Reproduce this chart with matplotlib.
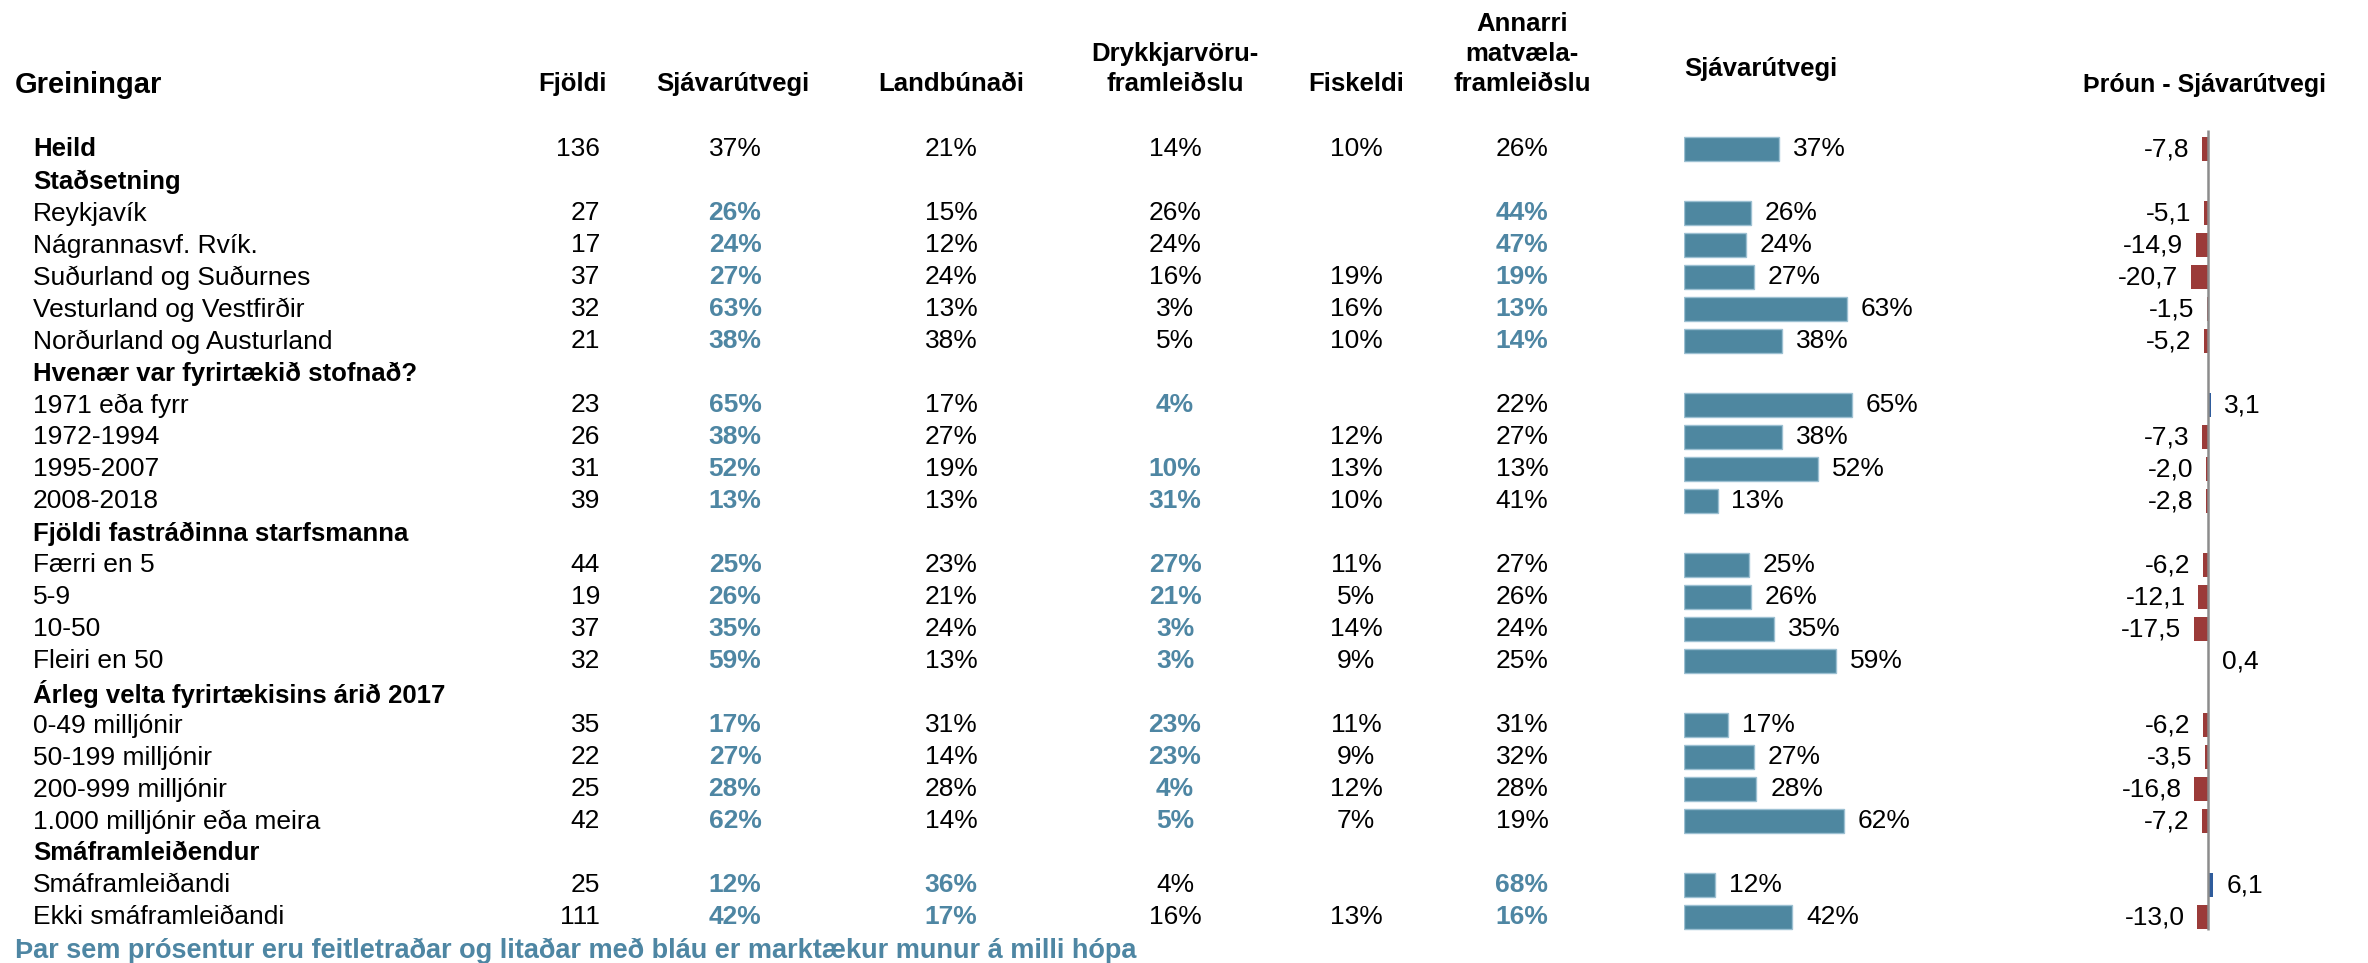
import matplotlib
matplotlib.use("Agg")
import matplotlib.pyplot as plt

plt.rcParams['font.family'] = ['Liberation Sans', 'DejaVu Sans']

# ---------------- data ----------------
row_labels = ["Heild", "Staðsetning", "Reykjavík", "Nágrannasvf. Rvík.", "Suðurland og Suðurnes",
              "Vesturland og Vestfirðir", "Norðurland og Austurland", "Hvenær var fyrirtækið stofnað?",
              "1971 eða fyrr", "1972-1994", "1995-2007", "2008-2018", "Fjöldi fastráðinna starfsmanna",
              "Færri en 5", "5-9", "10-50", "Fleiri en 50", "Árleg velta fyrirtækisins árið 2017",
              "0-49 milljónir", "50-199 milljónir", "200-999 milljónir", "1.000 milljónir eða meira",
              "Smáframleiðendur", "Smáframleiðandi", "Ekki smáframleiðandi"]
bold_rows = [True, True, False, False, False, False, False, True, False, False, False, False, True,
             False, False, False, False, True, False, False, False, False, True, False, False]

fjoldi = [136, None, 27, 17, 37, 32, 21, None, 23, 26, 31, 39, None, 44, 19, 37, 32, None,
          35, 22, 25, 42, None, 25, 111]
sjavarutvegi = [37, None, 26, 24, 27, 63, 38, None, 65, 38, 52, 13, None, 25, 26, 35, 59, None,
                17, 27, 28, 62, None, 12, 42]
landbunadi = [21, None, 15, 12, 24, 13, 38, None, 17, 27, 19, 13, None, 23, 21, 24, 13, None,
              31, 14, 28, 14, None, 36, 17]
drykkjarvoru = [14, None, 26, 24, 16, 3, 5, None, 4, None, 10, 31, None, 27, 21, 3, 3, None,
                23, 23, 4, 5, None, 4, 16]
fiskeldi = [10, None, None, None, 19, 16, 10, None, None, 12, 13, 10, None, 11, 5, 14, 9, None,
            11, 9, 12, 7, None, None, 13]
annarri = [26, None, 44, 47, 19, 13, 14, None, 22, 27, 13, 41, None, 27, 26, 24, 25, None,
           31, 32, 28, 19, None, 68, 16]
throun = [-7.8, None, -5.1, -14.9, -20.7, -1.5, -5.2, None, 3.1, -7.3, -2.0, -2.8, None,
          -6.2, -12.1, -17.5, 0.4, None, -6.2, -3.5, -16.8, -7.2, None, 6.1, -13.0]

# significance flags (bold blue)
sig_sjav = [False, False, True, True, True, True, True, False, True, True, True, True, False,
            True, True, True, True, False, True, True, True, True, False, True, True]
sig_landb = [False] * 23 + [True, True]
sig_drykk = [False, False, False, False, False, False, False, False, True, False, True, True, False,
             True, True, True, True, False, True, True, True, True, False, False, False]
sig_fisk = [False] * 25
sig_annarri = [False, False, True, True, True, True, True] + [False] * 16 + [True, True]

col_headers = ["Fjöldi", "Sjávarútvegi", "Landbúnaði", "Drykkjarvöru-\nframleiðslu", "Fiskeldi",
               "Annarri\nmatvæla-\nframleiðslu"]
bar_header = "Sjávarútvegi"
chg_header = "Þróun - Sjávarútvegi"
title_header = "Greiningar"
footnote = "Þar sem prósentur eru feitletraðar og litaðar með bláu er marktækur munur á milli hópa"

# ---------------- style ----------------
W, H = 2368, 963
ROW0, PITCH = 149.5, 32.0
FS = 19
FSB = 18.5
BLUE_TXT = "#4E86A3"
BAR_COL = "#4E87A0"
BAR_EDGE = "#9CC0D2"
NEG_COL = "#9B3B39"
POS_COL = "#2F5C9C"

fig = plt.figure(figsize=(W / 100, H / 100), dpi=100)

ylo = (H - ROW0) / PITCH
yhi = (0 - ROW0) / PITCH

ax = fig.add_axes([0, 0, 1, 1])
ax.set_xlim(0, W)
ax.set_ylim(ylo, yhi)
ax.axis("off")

# headers
hdr_y = (85 - ROW0) / PITCH
ax.text(15, hdr_y, title_header, fontsize=21, fontweight="bold", ha="left", va="center")
col_x = [573, 733, 951, 1175, 1356, 1522]
for x, h in zip(col_x, col_headers):
    ax.text(x, hdr_y + 0.35, h, fontsize=18.5, fontweight="bold", ha="center", va="bottom",
            linespacing=1.32)
ax.text(1684, (69 - ROW0) / PITCH, bar_header, fontsize=18.5, fontweight="bold", ha="left", va="center")
ax.text(2326, hdr_y, chg_header, fontsize=18, fontweight="bold", ha="right", va="center")

# rows
val_cols = [(sjavarutvegi, sig_sjav, 735), (landbunadi, sig_landb, 951), (drykkjarvoru, sig_drykk, 1175),
            (fiskeldi, sig_fisk, 1356), (annarri, sig_annarri, 1522)]
for i, lab in enumerate(row_labels):
    if bold_rows[i]:
        ax.text(33, i, lab, fontsize=FSB, fontweight="bold", ha="left", va="center")
    else:
        ax.text(33, i, lab, fontsize=FS, ha="left", va="center")
    if fjoldi[i] is not None:
        ax.text(600, i, f"{fjoldi[i]}", fontsize=FS, ha="right", va="center")
    for vals, sig, x in val_cols:
        v = vals[i]
        if v is None:
            continue
        ax.text(x, i, f"{v}%", fontsize=FS, ha="center", va="center",
                color=BLUE_TXT if sig[i] else "black",
                fontweight="bold" if sig[i] else "normal")

ax.text(15, (951 - ROW0) / PITCH, footnote, fontsize=19.5, fontweight="bold", color=BLUE_TXT,
        ha="left", va="center")

# bar chart axis
bar_left, bar_w = 1684, 258
axb = fig.add_axes([bar_left / W, 0, bar_w / W, 1])
axb.set_xlim(0, 100)
axb.set_ylim(ylo, yhi)
axb.axis("off")
bi = [i for i, v in enumerate(sjavarutvegi) if v is not None]
axb.barh(bi, [sjavarutvegi[i] for i in bi], height=0.75, color=BAR_COL, edgecolor=BAR_EDGE, linewidth=1)
for i in bi:
    axb.annotate(f"{sjavarutvegi[i]}%", (sjavarutvegi[i], i), xytext=(10, 0), textcoords="offset points",
                 fontsize=FS, ha="left", va="center", annotation_clip=False)

# change axis
zero_x, scale = 2208, 0.82
axc = fig.add_axes([(zero_x - 30 * scale) / W, 0, 60 * scale / W, 1])
axc.set_xlim(-30, 30)
axc.set_ylim(ylo, yhi)
axc.axis("off")
ci = [i for i, v in enumerate(throun) if v is not None]
cv = [throun[i] for i in ci]
axc.barh(ci, cv, height=0.75, color=[NEG_COL if v < 0 else POS_COL for v in cv], linewidth=0)
axc.vlines(0, (130 - ROW0) / PITCH, (930 - ROW0) / PITCH, color="#8C8C8C", linewidth=1.8)
for i, v in zip(ci, cv):
    s = f"{v:.1f}".replace(".", ",")
    if v < 0:
        axc.annotate(s, (v, i), xytext=(-9, 0), textcoords="offset points", fontsize=FS,
                     ha="right", va="center", annotation_clip=False)
    else:
        axc.annotate(s, (v, i), xytext=(10, 0), textcoords="offset points", fontsize=FS,
                     ha="left", va="center", annotation_clip=False)

fig.savefig("out.png", dpi=100)
